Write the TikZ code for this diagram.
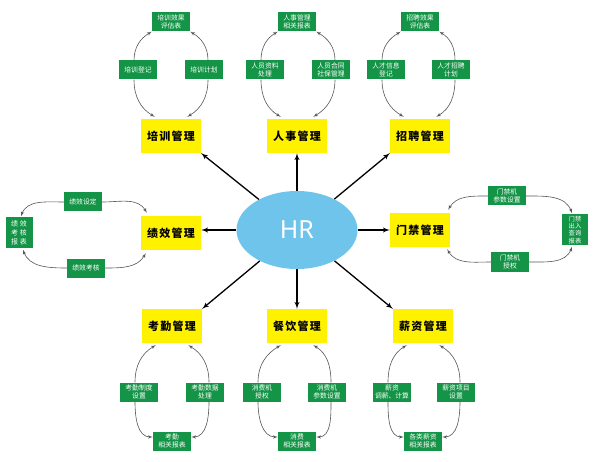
\documentclass[tikz,border=0pt]{standalone}
\usepackage{fontspec}
\newfontfamily\cjk{Noto Sans CJK SC}
\newfontfamily\cjkm{Noto Sans CJK SC}[LetterSpace=12]
\newfontfamily\hrfont{Noto Sans}
\usepackage{tikz}
\usetikzlibrary{shapes, arrows}
\definecolor{modyellow}{RGB}{255,242,0}
\definecolor{subgreen}{RGB}{19,148,70}
\definecolor{hrblue}{RGB}{111,196,236}
\definecolor{curvegray}{RGB}{85,85,85}
\tikzstyle{hrnode} = [ellipse, fill=hrblue, minimum width=121pt, minimum height=78pt, text=white, font=\hrfont\fontsize{25}{30}\selectfont]
\tikzstyle{mcell} = [rectangle, fill=modyellow, minimum width=60pt, minimum height=34pt, text centered, font=\cjkm\bfseries\fontsize{11}{13}\selectfont]
\tikzstyle{gcell} = [rectangle, fill=subgreen, text=white, minimum width=38pt, minimum height=19pt, inner sep=1pt, align=center, font=\cjk\fontsize{6.8}{7.8}\selectfont]
\tikzstyle{rcell} = [gcell, minimum width=27pt, minimum height=31pt, font=\cjk\fontsize{7}{9}\selectfont]
\tikzstyle{qcell} = [gcell, minimum width=26pt, minimum height=31pt, font=\cjk\fontsize{6.3}{7.2}\selectfont]
\tikzstyle{line} = [draw, line width=1.3pt, -latex']
\tikzstyle{cline} = [draw, curvegray, line width=0.6pt, -latex']

\begin{document}
\begin{tikzpicture}[node distance = 94pt, auto]
    \useasboundingbox (0,0) rectangle (594pt,461pt);
    \node[hrnode] (hr) at (297pt,231pt) {HR};

    % modules round HR
    \node[mcell, above of=hr](rsgl){人事管理};
    \node[mcell, left of=rsgl, node distance=126pt](pxgl){培训管理};
    \node[mcell, right of=rsgl, node distance=123pt](zpgl){招聘管理};
    \node[mcell, left of=hr, node distance=126pt, yshift=-3pt](jxgl){绩效管理};
    \node[mcell, right of=hr, node distance=123pt](mjgl){门禁管理};
    \node[mcell, below of=hr, node distance=96pt](cygl){餐饮管理};
    \node[mcell, left of=cygl, node distance=125pt](kqgl){考勤管理};
    \node[mcell, right of=cygl, node distance=126pt](xzgl){薪资管理};

    \path[line] (hr) -- (pxgl.south east);
    \path[line] (hr) -- (rsgl);
    \path[line] (hr) -- (zpgl.south west);
    \path[line] (hr.west) -- (hr.west -| jxgl.east);
    \path[line] (hr) -- (mjgl);
    \path[line] (hr) -- (kqgl.north east);
    \path[line] (hr) -- (cygl);
    \path[line] (hr) -- (xzgl.north west);

    % 培训
    \node[gcell, above of=pxgl, node distance=114pt](pxpg){培训效果\\评估表};
    \node[gcell, above of=pxgl, node distance=66pt, xshift=-33pt](pxdj){培训登记};
    \node[gcell, above of=pxgl, node distance=66pt, xshift=33pt](pxjh){培训计划};
    \path[cline] ([xshift=-4pt]pxdj.north) to[out=90, in=-150] (pxpg.south west);
    \path[cline] ([xshift=-4pt]pxdj.south) to[out=-90, in=150] ([shift={(14pt,2pt)}]pxgl.north west);
    \path[cline] ([xshift=4pt]pxjh.north) to[out=90, in=-30] (pxpg.south east);
    \path[cline] ([xshift=4pt]pxjh.south) to[out=-90, in=30] ([shift={(-14pt,2pt)}]pxgl.north east);

    % 人事
    \node[gcell, above of=rsgl, node distance=114pt](rsbb){人事管理\\相关报表};
    \node[gcell, above of=rsgl, node distance=66pt, xshift=-32pt](rszl){人员资料\\处理};
    \node[gcell, above of=rsgl, node distance=66pt, xshift=34pt](rsht){人员合同\\社保管理};
    \path[cline] ([xshift=-4pt]rszl.north) to[out=90, in=-150] (rsbb.south west);
    \path[cline] ([xshift=-4pt]rszl.south) to[out=-90, in=150] ([shift={(14pt,2pt)}]rsgl.north west);
    \path[cline] ([xshift=4pt]rsht.north) to[out=90, in=-30] (rsbb.south east);
    \path[cline] ([xshift=4pt]rsht.south) to[out=-90, in=30] ([shift={(-14pt,2pt)}]rsgl.north east);

    % 招聘
    \node[gcell, above of=zpgl, node distance=114pt](zppg){招聘效果\\评估表};
    \node[gcell, above of=zpgl, node distance=66pt, xshift=-34pt](zpxx){人才信息\\登记};
    \node[gcell, above of=zpgl, node distance=66pt, xshift=31pt](zpjh){人才招聘\\计划};
    \path[cline] ([xshift=-4pt]zpxx.north) to[out=90, in=-150] (zppg.south west);
    \path[cline] ([xshift=-4pt]zpxx.south) to[out=-90, in=150] ([shift={(14pt,2pt)}]zpgl.north west);
    \path[cline] ([xshift=4pt]zpjh.north) to[out=90, in=-30] (zppg.south east);
    \path[cline] ([xshift=4pt]zpjh.south) to[out=-90, in=30] ([shift={(-14pt,2pt)}]zpgl.north east);

    % 绩效
    \node[gcell, left of=jxgl, node distance=88pt, yshift=31pt](jxsd){绩效设定};
    \node[gcell, left of=jxgl, node distance=85pt, yshift=-35pt](jxkh){绩效考核};
    \node[rcell, left of=jxgl, node distance=152pt](jxbb){绩\hspace{2pt}效\\考\hspace{2pt}核\\报\hspace{2pt}表};
    \path[cline] (jxsd.east) to[out=0, in=120] ([shift={(6pt,3pt)}]jxgl.north west);
    \path[cline] (jxsd.west) to[out=180, in=70] ([shift={(2pt,1pt)}]jxbb.north);
    \path[cline] (jxkh.west) to[out=180, in=-70] ([shift={(4pt,-1pt)}]jxbb.south);
    \path[cline] (jxkh.east) to[out=0, in=-120] ([shift={(5pt,-3pt)}]jxgl.south west);

    % 门禁
    \node[gcell, right of=mjgl, node distance=87pt, yshift=34pt](mjcs){门禁机\\参数设置};
    \node[gcell, right of=mjgl, node distance=90pt, yshift=-32pt](mjsq){门禁机\\授权};
    \node[qcell, right of=mjgl, node distance=155pt](mjbb){门禁\\出入\\查询\\报表};
    \path[cline] (mjcs.west) to[out=180, in=60] ([shift={(-2pt,3pt)}]mjgl.north east);
    \path[cline] (mjcs.east) to[out=0, in=110] ([shift={(-3pt,1pt)}]mjbb.north);
    \path[cline] (mjsq.west) to[out=180, in=-60] ([shift={(-3pt,-2pt)}]mjgl.south east);
    \path[cline] (mjsq.east) to[out=0, in=-110] ([shift={(-3pt,-1pt)}]mjbb.south);

    % 考勤
    \node[gcell, below of=kqgl, node distance=66pt, xshift=-33pt](kqzd){考勤制度\\设置};
    \node[gcell, below of=kqgl, node distance=66pt, xshift=33pt](kqsj){考勤数据\\处理};
    \node[gcell, below of=kqgl, node distance=115pt](kqbb){考勤\\相关报表};
    \path[cline] ([xshift=-4pt]kqzd.north) to[out=90, in=-150] ([shift={(14pt,-2pt)}]kqgl.south west);
    \path[cline] ([xshift=-4pt]kqzd.south) to[out=-90, in=180] ([yshift=4pt]kqbb.west);
    \path[cline] ([xshift=4pt]kqsj.north) to[out=90, in=-30] ([shift={(-14pt,-2pt)}]kqgl.south east);
    \path[cline] ([xshift=4pt]kqsj.south) to[out=-90, in=0] ([yshift=4pt]kqbb.east);

    % 餐饮
    \node[gcell, below of=cygl, node distance=66pt, xshift=-35pt](cysq){消费机\\授权};
    \node[gcell, below of=cygl, node distance=66pt, xshift=30pt](cycs){消费机\\参数设置};
    \node[gcell, below of=cygl, node distance=115pt](cybb){消费\\相关报表};
    \path[cline] ([xshift=-4pt]cysq.north) to[out=90, in=-150] ([shift={(14pt,-2pt)}]cygl.south west);
    \path[cline] ([xshift=-4pt]cysq.south) to[out=-90, in=180] ([yshift=4pt]cybb.west);
    \path[cline] ([xshift=4pt]cycs.north) to[out=90, in=-30] ([shift={(-14pt,-2pt)}]cygl.south east);
    \path[cline] ([xshift=4pt]cycs.south) to[out=-90, in=0] ([yshift=4pt]cybb.east);

    % 薪资
    \node[gcell, below of=xzgl, node distance=66pt, xshift=-31pt](xztx){薪资\\调薪、计算};
    \node[gcell, below of=xzgl, node distance=66pt, xshift=33pt](xzxm){薪资项目\\设置};
    \node[gcell, below of=xzgl, node distance=115pt](xzbb){各类薪资\\相关报表};
    \path[cline] ([xshift=-4pt]xztx.north) to[out=90, in=-150] ([shift={(14pt,-2pt)}]xzgl.south west);
    \path[cline] ([xshift=-4pt]xztx.south) to[out=-90, in=180] ([yshift=4pt]xzbb.west);
    \path[cline] ([xshift=4pt]xzxm.north) to[out=90, in=-30] ([shift={(-14pt,-2pt)}]xzgl.south east);
    \path[cline] ([xshift=4pt]xzxm.south) to[out=-90, in=0] ([yshift=4pt]xzbb.east);
\end{tikzpicture}
\end{document}
